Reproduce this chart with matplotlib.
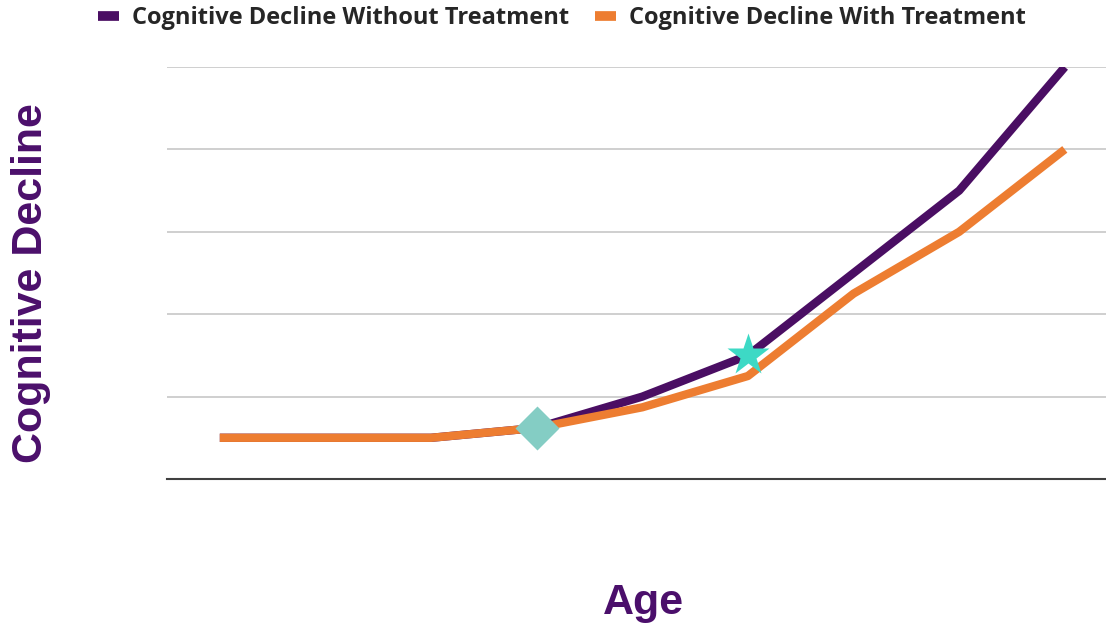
import matplotlib
matplotlib.use('Agg')
import matplotlib.pyplot as plt
from matplotlib.lines import Line2D

# age steps along the x axis (unlabelled in the chart)
age_idx = [0, 1, 2, 3, 4, 5, 6, 7, 8]
no_treatment = [0.5, 0.5, 0.5, 0.62, 1.0, 1.5, 2.5, 3.5, 5.0]
with_treatment = [0.5, 0.5, 0.5, 0.62, 0.87, 1.25, 2.25, 3.0, 4.0]
diamond_at = 3      # onset marker
star_at = 5         # treatment start marker

PURPLE = '#4a0e63'
ORANGE = '#ed7d31'
LABEL_C = '#4b0f6b'

fig = plt.figure(figsize=(11.06, 6.27), dpi=100)
ax = fig.add_axes([167 / 1106, 1 - 479 / 627, (1106 - 167) / 1106, (479 - 67) / 627])

ax.plot(age_idx, no_treatment, color=PURPLE, lw=6, solid_capstyle='butt', zorder=3)
ax.plot(age_idx, with_treatment, color=ORANGE, lw=6, solid_capstyle='butt', zorder=4)
ax.plot(age_idx[diamond_at], no_treatment[diamond_at], 'D', color='#84cdc4', ms=22,
        mec='none', zorder=5)
ax.plot(age_idx[star_at], no_treatment[star_at], '*', color='#3dd9c5', ms=32,
        mec='none', zorder=5)

ax.set_xlim(-0.5, 8.39)
ax.set_ylim(0, 5)
ax.set_yticks([0, 1, 2, 3, 4, 5])
ax.set_yticklabels([])
ax.set_xticks([])
ax.grid(axis='y', color='#cccccc', lw=1.3)
ax.tick_params(axis='y', length=0)
for s in ['top', 'right', 'left']:
    ax.spines[s].set_visible(False)
ax.spines['bottom'].set_color('#404040')
ax.spines['bottom'].set_linewidth(1.5)

fig.text(31 / 1106, 1 - 283 / 627, 'Cognitive Decline', rotation=90, ha='center', va='center',
         fontsize=31, fontweight='bold', color=LABEL_C, family='Liberation Sans')
fig.text(643 / 1106, 1 - 603 / 627, 'Age', ha='center', va='center',
         fontsize=31, fontweight='bold', color=LABEL_C, family='Liberation Sans')

handles = [Line2D([], [], color=PURPLE, lw=7, solid_capstyle='butt'),
           Line2D([], [], color=ORANGE, lw=7, solid_capstyle='butt')]
fig.legend(handles, ['Cognitive Decline Without Treatment', 'Cognitive Decline With Treatment'],
           loc='center', bbox_to_anchor=(562 / 1106, 1 - 18 / 627), ncol=2, frameon=False,
           handlelength=0.9, handletextpad=0.55, columnspacing=1.1,
           prop={'family': 'Open Sans', 'weight': 'bold', 'size': 17},
           labelcolor='#262626')

fig.savefig('out.png', dpi=100)
